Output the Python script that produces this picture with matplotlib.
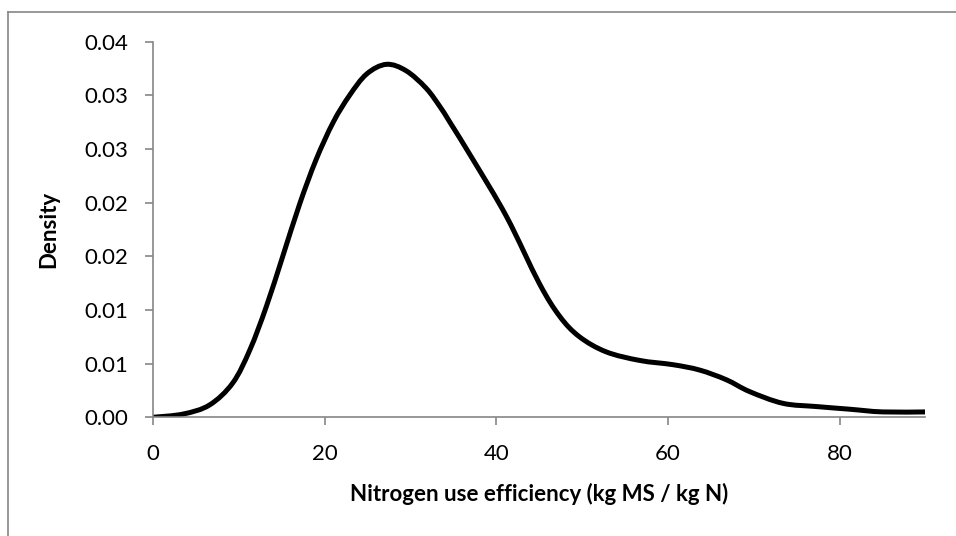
import matplotlib.pyplot as plt
from matplotlib.lines import Line2D
from matplotlib.path import Path
from matplotlib.patches import PathPatch

# density curve
nue = [0, 3.5, 6.6, 9.3, 11.3, 13.2, 15.1, 17.1, 19.0, 21.0, 22.9, 24.9, 27.2,
       29.5, 31.8, 33.4, 34.6, 37.3, 41.2, 45.0, 47.4, 49.7, 52.8, 56.7, 60.6,
       63.7, 66.8, 69.5, 73.4, 77.3, 81.2, 85.0, 90.0]
density = [0.0, 0.0003, 0.00115, 0.0032, 0.0063, 0.0103, 0.01495, 0.0199,
           0.0240, 0.0275, 0.0300, 0.0320, 0.0329, 0.0323, 0.0307, 0.0290,
           0.0275, 0.0240, 0.0187, 0.0125, 0.0094, 0.0075, 0.0061, 0.0053,
           0.0049, 0.0044, 0.0035, 0.0024, 0.0013, 0.0010, 0.00075, 0.0005,
           0.0005]

x_ticks = [0, 20, 40, 60, 80]
y_ticks = [0, 0.005, 0.010, 0.015, 0.020, 0.025, 0.030, 0.035]
y_labels = ['0.00', '0.01', '0.01', '0.02', '0.02', '0.03', '0.03', '0.04']


def smooth_path(xs, ys):
    # Excel-like smoothed line: Catmull-Rom segments as cubic Beziers
    pts = list(zip(xs, ys))
    verts = [pts[0]]
    codes = [Path.MOVETO]
    for i in range(len(pts) - 1):
        p0 = pts[i - 1] if i > 0 else pts[i]
        p1 = pts[i]
        p2 = pts[i + 1]
        p3 = pts[i + 2] if i + 2 < len(pts) else pts[i + 1]
        c1 = (p1[0] + (p2[0] - p0[0]) / 6, p1[1] + (p2[1] - p0[1]) / 6)
        c2 = (p2[0] - (p3[0] - p1[0]) / 6, p2[1] - (p3[1] - p1[1]) / 6)
        verts += [c1, c2, p2]
        codes += [Path.CURVE4] * 3
    return Path(verts, codes)


plt.rcParams['font.family'] = ['Lato', 'DejaVu Sans']

fig = plt.figure(figsize=(9.56, 5.36), dpi=100)
ax = fig.add_axes([0.160, 0.2215, 0.808, 0.7005])

ax.add_patch(PathPatch(smooth_path(nue, density), fill=False,
                       edgecolor='black', lw=3.6, joinstyle='round',
                       capstyle='butt'))

ax.set_xlim(0, 90)
ax.set_ylim(0, 0.035)
ax.set_xticks(x_ticks)
ax.set_yticks(y_ticks)
ax.set_yticklabels(y_labels)

grey = '#868686'
for side in ['top', 'right']:
    ax.spines[side].set_visible(False)
for side in ['left', 'bottom']:
    ax.spines[side].set_color(grey)
    ax.spines[side].set_linewidth(1.2)
ax.tick_params(direction='out', length=6, width=1.2, color=grey,
               labelsize=16)
ax.tick_params(axis='x', pad=13)
ax.tick_params(axis='y', pad=12)

ax.set_xlabel('Nitrogen use efficiency (kg MS / kg N)', fontsize=16,
              fontweight='bold', va='center')
ax.xaxis.set_label_coords(0.5, -0.203)
ax.set_ylabel('Density', fontsize=16, fontweight='bold', va='center')
ax.yaxis.set_label_coords(-0.135, 0.5)

# chart area border (only top and left visible in the crop)
fig.add_artist(Line2D([7.5 / 956, 1], [1 - 12 / 536, 1 - 12 / 536],
                      transform=fig.transFigure, color=grey, lw=1.2))
fig.add_artist(Line2D([7.5 / 956, 7.5 / 956], [0, 1 - 12 / 536],
                      transform=fig.transFigure, color=grey, lw=1.2))

fig.savefig('out.png', dpi=100)
